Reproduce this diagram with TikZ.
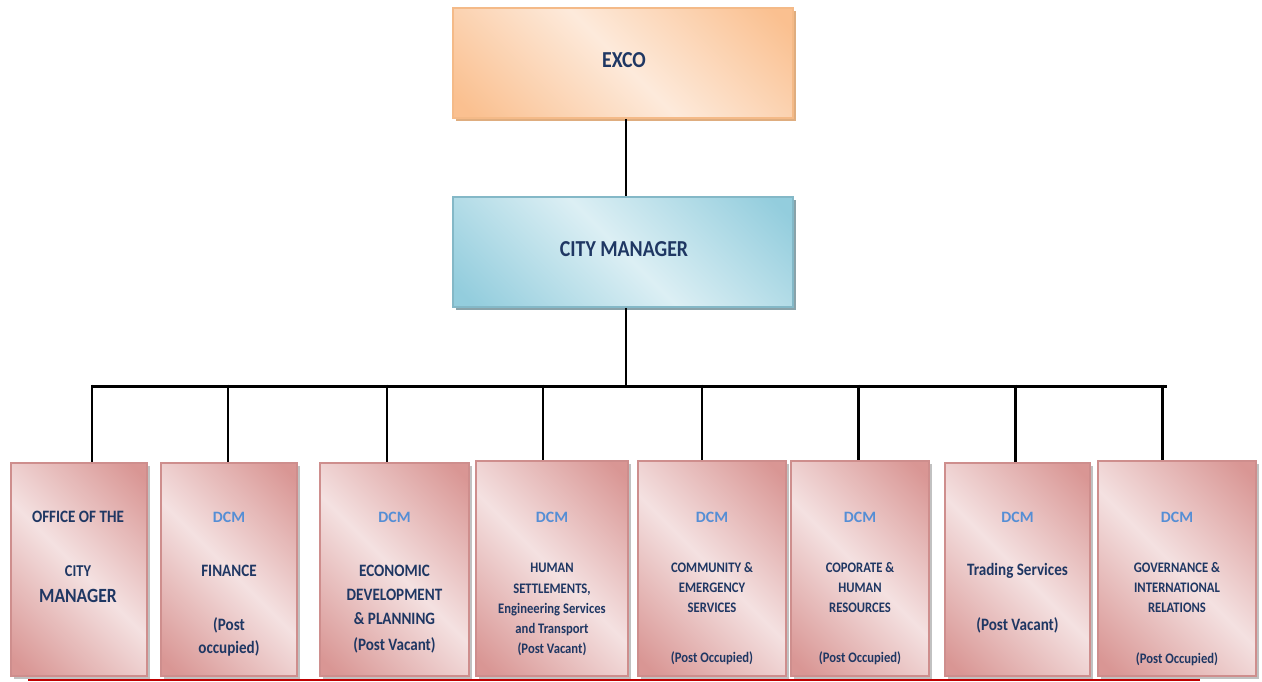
\documentclass[tikz,border=0pt]{standalone}
\usepackage{fontspec}
\usepackage{graphicx}
\setmainfont{Carlito}
\usetikzlibrary{shadows}
\definecolor{rdk}{HTML}{D99694}
\definecolor{rlt}{HTML}{F4E1E1}
\definecolor{odk}{HTML}{FAC090}
\definecolor{olt}{HTML}{FDEADB}
\definecolor{bdk}{HTML}{93CDDD}
\definecolor{blt}{HTML}{DCEFF4}
\definecolor{navy}{HTML}{1F3763}
\definecolor{dcmblue}{HTML}{558ED5}
\definecolor{redline}{HTML}{C00000}
\pgfdeclarehorizontalshading{redgrad}{100bp}{color(0bp)=(rdk); color(18bp)=(rdk); color(50bp)=(rlt); color(82bp)=(rdk); color(100bp)=(rdk)}
\pgfdeclarehorizontalshading{orangegrad}{100bp}{color(0bp)=(odk); color(18bp)=(odk); color(50bp)=(olt); color(82bp)=(odk); color(100bp)=(odk)}
\pgfdeclarehorizontalshading{bluegrad}{100bp}{color(0bp)=(bdk); color(18bp)=(bdk); color(50bp)=(blt); color(82bp)=(bdk); color(100bp)=(bdk)}
\newcommand\vsc[1]{\scalebox{1}[1.15]{#1}}
\tikzset{
  conn/.style={line width=1.7pt, black},
  topbox/.style={shade, shading angle=45, line width=0.9pt, inner sep=0pt,
    minimum width=6.8cm, minimum height=2.2cm},
  excobox/.style={topbox, shading=orangegrad, draw=odk!90!brown,
    drop shadow={shadow xshift=1.8pt, shadow yshift=-1.8pt, fill=brown!60!odk, opacity=0.8}},
  cmbox/.style={topbox, shading=bluegrad, draw=bdk!90!black,
    drop shadow={shadow xshift=1.8pt, shadow yshift=-1.8pt, fill=bdk!60!black, opacity=0.7}},
  deptbox/.style={shade, shading=redgrad, shading angle=45, draw=rdk!95!black,
    line width=0.9pt, inner sep=0pt,
    drop shadow={shadow xshift=1.6pt, shadow yshift=-1.6pt, fill=black!40, opacity=0.6}},
  tx/.style={anchor=base, inner sep=0pt, text=navy},
  big/.style={tx, font=\bfseries\fontsize{11.3}{13}\selectfont},
  mid/.style={tx, font=\bfseries\fontsize{8.6}{10}\selectfont},
  sml/.style={tx, font=\bfseries\fontsize{7.2}{8.5}\selectfont},
  dcm/.style={tx, text=dcmblue, font=\bfseries\fontsize{9}{11}\selectfont},
}
\begin{document}
\begin{tikzpicture}[x=0.02cm, y=-0.02cm]
\useasboundingbox (0,0) rectangle (1262,681);
\fill[white] (0,0) rectangle (1262,681);

% bottom red line
\coordinate (rl1) at (28,680);
\coordinate (rl2) at (1200,680);
\draw[redline, line width=1.3pt] (rl1) -- (rl2);

% top boxes
\node[excobox] (ex) at (623,63) {};
\node[cmbox] (cm) at (623,252) {};
\node[big] (exT) at (624,67) {\vsc{EXCO}};
\node[big] (cmT) at (624,256) {\vsc{CITY MANAGER}};

% department boxes
\node[deptbox, minimum width=2.72cm, minimum height=4.26cm] (b1) at (79,569.5) {};
\node[deptbox, minimum width=2.72cm, minimum height=4.26cm] (b2) at (229,569.5) {};
\node[deptbox, minimum width=2.98cm, minimum height=4.26cm] (b3) at (394.5,569.5) {};
\node[deptbox, minimum width=3.04cm, minimum height=4.30cm] (b4) at (552,568.5) {};
\node[deptbox, minimum width=2.96cm, minimum height=4.30cm] (b5) at (712,568.5) {};
\node[deptbox, minimum width=2.76cm, minimum height=4.30cm] (b6) at (860,568.5) {};
\node[deptbox, minimum width=2.90cm, minimum height=4.26cm] (b7) at (1017.5,569.5) {};
\node[deptbox, minimum width=3.16cm, minimum height=4.30cm] (b8) at (1177,568.5) {};

% connectors
\coordinate (vx) at (626,0);
\draw[conn] (ex.south -| vx) -- (cm.north -| vx);
\coordinate (hub) at (626,386);
\coordinate (busL) at (92,386);
\coordinate (busR) at (1167,386);
\draw[conn] (cm.south -| vx) -- (hub);
\draw[conn] (busL) -- (busR);
\coordinate (j1) at (92,386);
\coordinate (j2) at (228,386);
\coordinate (j3) at (387,386);
\coordinate (j4) at (543,386);
\coordinate (j5) at (702,386);
\coordinate (j6) at (858,386);
\coordinate (j7) at (1015,386);
\coordinate (j8) at (1162,386);
\foreach \i in {1,...,8} {
  \draw[conn] ([yshift=0.85pt]j\i) -- (j\i |- b\i.north);
}

% texts box 1
\node[mid] (t1a) at (78,522) {\vsc{OFFICE OF THE}};
\node[mid, font=\bfseries\fontsize{8.2}{10}\selectfont] (t1b) at (78,576) {\vsc{CITY}};
\node[mid, font=\bfseries\fontsize{10}{12}\selectfont] (t1c) at (78,602) {\vsc{MANAGER}};
% box 2
\node[dcm] (t2a) at (229,522) {DCM};
\node[mid] (t2b) at (229,576) {\vsc{FINANCE}};
\node[mid] (t2c) at (229,630) {\vsc{(Post}};
\node[mid] (t2d) at (229,653) {\vsc{occupied)}};
% box 3
\node[dcm] (t3a) at (394.5,522) {DCM};
\node[mid] (t3b) at (394.5,576) {\vsc{ECONOMIC}};
\node[mid] (t3c) at (394.5,600) {\vsc{DEVELOPMENT}};
\node[mid] (t3d) at (394.5,624) {\vsc{\& PLANNING}};
\node[mid] (t3e) at (394.5,650) {\vsc{(Post Vacant)}};
% box 4
\node[dcm] (t4a) at (552,522) {DCM};
\node[sml] (t4b) at (552,572) {\vsc{HUMAN}};
\node[sml] (t4c) at (552,593) {\vsc{SETTLEMENTS,}};
\node[sml] (t4d) at (552,613) {\vsc{Engineering Services}};
\node[sml] (t4e) at (552,633) {\vsc{and Transport}};
\node[sml] (t4f) at (552,653) {\vsc{(Post Vacant)}};
% box 5
\node[dcm] (t5a) at (712,522) {DCM};
\node[sml] (t5b) at (712,572) {\vsc{COMMUNITY \&}};
\node[sml] (t5c) at (712,592) {\vsc{EMERGENCY}};
\node[sml] (t5d) at (712,612) {\vsc{SERVICES}};
\node[sml] (t5e) at (712,662) {\vsc{(Post Occupied)}};
% box 6
\node[dcm] (t6a) at (860,522) {DCM};
\node[sml] (t6b) at (860,572) {\vsc{COPORATE \&}};
\node[sml] (t6c) at (860,592) {\vsc{HUMAN}};
\node[sml] (t6d) at (860,612) {\vsc{RESOURCES}};
\node[sml] (t6e) at (860,662) {\vsc{(Post Occupied)}};
% box 7
\node[dcm] (t7a) at (1017.5,522) {DCM};
\node[mid] (t7b) at (1017.5,575) {\vsc{Trading Services}};
\node[mid] (t7c) at (1017.5,630) {\vsc{(Post Vacant)}};
% box 8
\node[dcm] (t8a) at (1177,522) {DCM};
\node[sml] (t8b) at (1177,572) {\vsc{GOVERNANCE \&}};
\node[sml] (t8c) at (1177,592) {\vsc{INTERNATIONAL}};
\node[sml] (t8d) at (1177,612) {\vsc{RELATIONS}};
\node[sml] (t8e) at (1177,663) {\vsc{(Post Occupied)}};
\end{tikzpicture}
\end{document}
